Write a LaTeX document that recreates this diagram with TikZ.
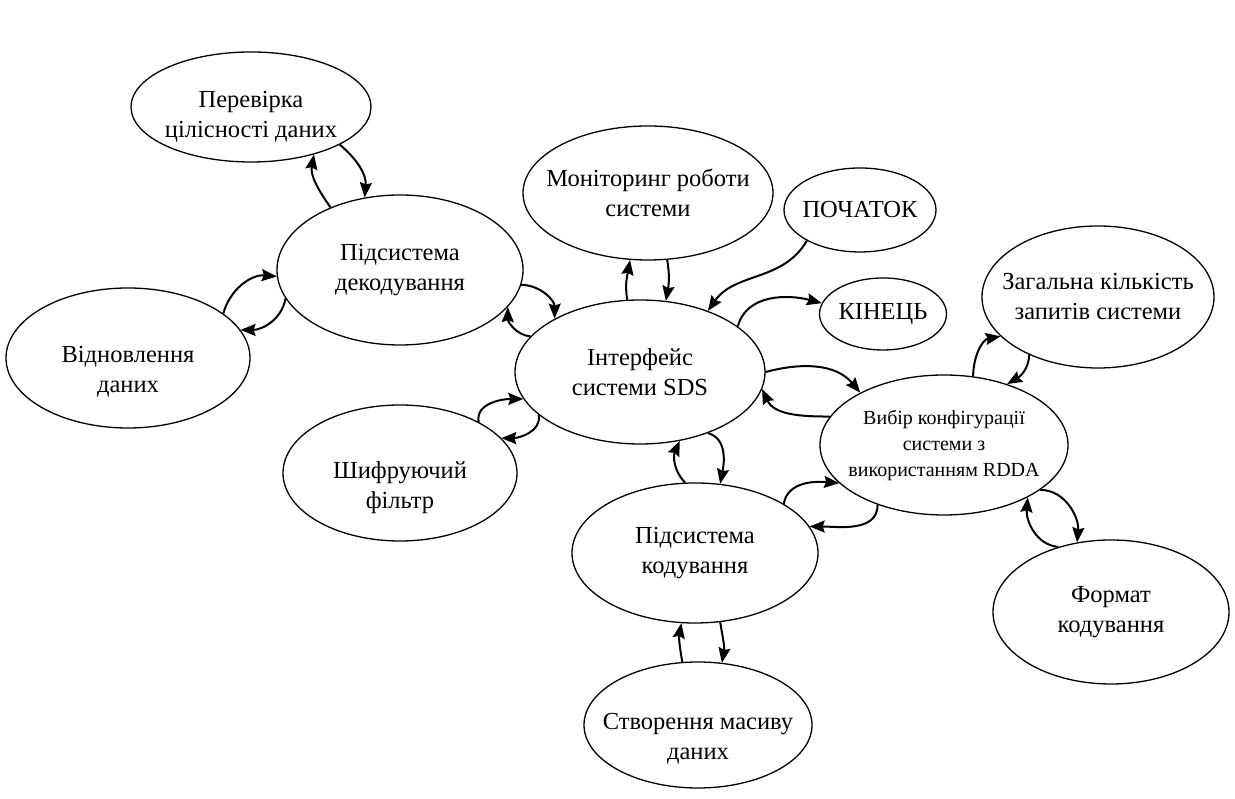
\documentclass[tikz,border=0pt]{standalone}
\usepackage{fontspec}
\setmainfont{Liberation Serif}
\usetikzlibrary{shapes.geometric,arrows.meta}
\newcommand\lowtext[2]{\raisebox{-#1}[\height][\depth]{\begin{tabular}{@{}c@{}}#2\end{tabular}}}
\begin{document}
\begin{tikzpicture}[x=1pt,y=1pt,
 ell/.style args={#1/#2}{draw, ellipse, line width=1.3pt, minimum width=#1pt, minimum height=#2pt, inner xsep=-40pt, inner ysep=0pt, align=center, font=\fontsize{24.5}{30}\selectfont},
 arr/.style={line width=2pt, -{Stealth[length=15pt,width=12pt,inset=2pt]}}]
\useasboundingbox (0,0) rectangle (1235,799);
\node[ell=240/110] (P) at (251,692) {\lowtext{10pt}{Перевірка\\цілісності даних}};
\node[ell=246/150] (D) at (400,529) {Підсистема\\декодування};
\node[ell=244/140] (V) at (128,441) {\lowtext{14pt}{Відновлення\\даних}};
\node[ell=250/134] (M) at (648,606) {Моніторинг роботи\\системи};
\node[ell=152/84] (S) at (860,589) {ПОЧАТОК};
\node[ell=127/72] (K) at (883,485) {КІНЕЦЬ};
\node[ell=250/144] (I) at (640,427) {Інтерфейс\\системи SDS};
\node[ell=234/136] (Sh) at (400,326) {\lowtext{15pt}{Шифруючий\\фільтр}};
\node[ell=232/142] (Z) at (1098,502) {Загальна кількість\\запитів системи};
\node[ell=248/140, font=\fontsize{20}{26}\selectfont] (C) at (944,354) {Вибір конфігурації\\системи з\\використанням RDDA};
\node[ell=246/140] (E) at (695,246) {Підсистема\\кодування};
\node[ell=228/126] (Cr) at (698,74) {\lowtext{14pt}{Створення масиву\\даних}};
\node[ell=236/144] (F) at (1111,187) {Формат\\кодування};

\draw[arr] (D.138) to[out=125,in=-100] (P.-37);
\draw[arr] (P.-23) to[out=-40,in=85] (D.116);
\draw[arr] (V.25) to[out=75,in=175] (D.183);
\draw[arr] (D.194) to[out=-100,in=0] (V.14);
\draw[arr] (D.-7) to[out=0,in=90] (I.148);
\draw[arr] (I.162) to[out=175,in=-90] (D.-19);
\draw[arr] (I.100) to[out=100,in=-100] (M.-105);
\draw[arr] (M.-74) to[out=-80,in=80] (I.70);
\draw[arr] (S.-150) to[out=-120,in=55] (I.42);
\draw[arr] (I.25) to[out=75,in=165] (K.170);
\draw[arr] (I.0) to[out=15,in=130] (C.148);
\draw[arr] (C.166) to[out=180,in=-65] (I.-8);
\draw[arr] (C.67) to[out=90,in=190] (Z.-158);
\draw[arr] (Z.-140) to[out=-90,in=30] (C.44);
\draw[arr] (E.29) to[out=80,in=175] (C.-160);
\draw[arr] (C.-138) to[out=-90,in=0] (E.13);
\draw[arr] (C.-25) to[out=0,in=85] (F.116);
\draw[arr] (F.129) to[out=175,in=-95] (C.-32);
\draw[arr] (Cr.104) to[out=100,in=-100] (E.-101);
\draw[arr] (E.-70) to[out=-80,in=80] (Cr.69);
\draw[arr] (E.98) to[out=135,in=-114] (I.-60);
\draw[arr] (I.-42) to[out=-15,in=79] (E.70);
\draw[arr] (Sh.33) to[out=100,in=180] (I.193);
\draw[arr] (I.-157) to[out=-80,in=0] (Sh.19);
\end{tikzpicture}
\end{document}
